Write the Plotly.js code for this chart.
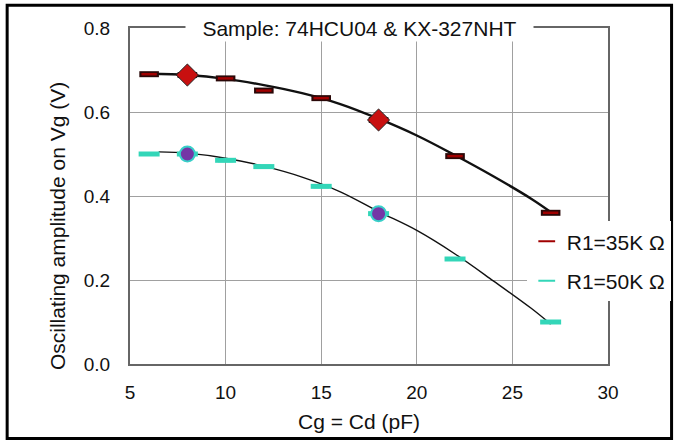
<!DOCTYPE html>
<html><head><meta charset="utf-8">
<script src="https://cdn.plot.ly/plotly-3.0.1.min.js"></script>
<style>body{margin:0;background:#fff}#g{width:683px;height:443px}</style>
</head><body><div id="g"></div>
<script>
// Measured data
const xData = [6, 8, 10, 12, 15, 18, 22, 27];
const y35 = [0.69, 0.688, 0.68, 0.651, 0.633, 0.581, 0.495, 0.36];
const y50 = [0.50, 0.50, 0.485, 0.47, 0.423, 0.358, 0.25, 0.10];
// Highlighted points
const xHi = [8, 18];
const y35Hi = [0.688, 0.581];
const y50Hi = [0.50, 0.358];
// Trend curves
const xFit35 = [6, 8, 10, 12, 14, 16, 18, 20, 22, 24, 26, 27];
const yFit35 = [0.691, 0.688, 0.679, 0.664, 0.645, 0.619, 0.584, 0.544, 0.497, 0.447, 0.393, 0.362];
const xFit50 = [6.5, 8, 10, 12, 14, 16, 18, 20, 22, 24, 26, 27];
const yFit50 = [0.505, 0.502, 0.49, 0.471, 0.445, 0.41, 0.363, 0.318, 0.262, 0.198, 0.132, 0.095];
const names = ["R1=35K Ω", "R1=50K Ω"];
const title = "Sample: 74HCU04 & KX-327NHT";
const xTitle = "Cg = Cd (pF)";
const yTitle = "Oscillating amplitude on Vg (V)";

const traces = [
  {x: xFit35, y: yFit35, mode: "lines", line: {color: "#111", width: 2.4, shape: "spline"}, showlegend: false, hoverinfo: "skip"},
  {x: xFit50, y: yFit50, mode: "lines", line: {color: "#111", width: 1.4, shape: "spline"}, showlegend: false, hoverinfo: "skip"},
  {x: xData, y: y35, mode: "markers", showlegend: false,
   marker: {symbol: "line-ew-open", size: 14, color: "#2a0808", line: {width: 6}}},
  {x: xData, y: y35, mode: "markers", name: names[0], legendgroup: "a",
   marker: {symbol: "line-ew-open", size: 11, color: "#a00000", line: {width: 2.5}}},
  {x: xData, y: y50, mode: "markers", showlegend: false,
   marker: {symbol: "line-ew-open", size: 15, color: "#33d6b8", line: {width: 5}}},
  {x: xData, y: y50, mode: "markers", name: names[1], legendgroup: "b",
   marker: {symbol: "line-ew-open", size: 11, color: "#33d6b8", line: {width: 4}}},
  {x: xHi, y: y35Hi, mode: "markers", showlegend: false,
   marker: {symbol: "diamond", size: 17, color: "#c81010", line: {color: "#222", width: 1}}},
  {x: xHi, y: y50Hi, mode: "markers", showlegend: false,
   marker: {symbol: "circle", size: 15, color: "#7436a6", line: {color: "#38cfc8", width: 2}}}
];

const layout = {
  width: 683, height: 443,
  margin: {l: 130, r: 70, t: 28, b: 79},
  paper_bgcolor: "#fff", plot_bgcolor: "#fff",
  font: {family: "Liberation Sans, Arial, sans-serif", color: "#111"},
  showlegend: true,
  legend: {x: 0.83, y: 0.425, xanchor: "left", yanchor: "top", bgcolor: "#fff",
           font: {size: 21, color: "#111"}, itemwidth: 30, tracegroupgap: 9,
           itemsizing: "constant"},
  xaxis: {range: [5, 30], tickvals: [5, 10, 15, 20, 25, 30], showgrid: true, gridcolor: "#a0a0a0", gridwidth: 1,
          showline: true, linecolor: "#666", linewidth: 2, mirror: true, zeroline: false,
          ticks: "", tickfont: {size: 19}, ticklabelstandoff: 10},
  yaxis: {range: [0, 0.8], tickvals: [0, 0.2, 0.4, 0.6, 0.8], ticktext: ["0.0", "0.2", "0.4", "0.6", "0.8"],
          showgrid: true, gridcolor: "#a0a0a0", gridwidth: 1, showline: true, linecolor: "#666", linewidth: 2,
          mirror: true, zeroline: false, ticks: "", tickfont: {size: 19}, ticklabelstandoff: 14},
  annotations: [
    {text: title, xref: "paper", yref: "paper", x: 0.48, y: 1, xanchor: "center", yanchor: "middle",
     showarrow: false, bgcolor: "#fff", borderpad: 1, font: {size: 21, color: "#111"}, width: 345},
    {text: xTitle, xref: "paper", yref: "paper", x: 0.48, y: -0.17, xanchor: "center", yanchor: "middle",
     showarrow: false, font: {size: 21, color: "#111"}},
    {text: yTitle, xref: "paper", yref: "paper", x: -0.153, y: 0.41, xanchor: "center", yanchor: "middle",
     textangle: -90, showarrow: false, font: {size: 21, color: "#111"}}
  ],
  shapes: [
    {type: "rect", xref: "paper", yref: "paper", x0: -0.257, x1: 1.133, y0: -0.222, y1: 1.068,
     line: {color: "#000", width: 3}}
  ]
};
Plotly.newPlot("g", traces, layout, {displayModeBar: false, staticPlot: true});
</script></body></html>
